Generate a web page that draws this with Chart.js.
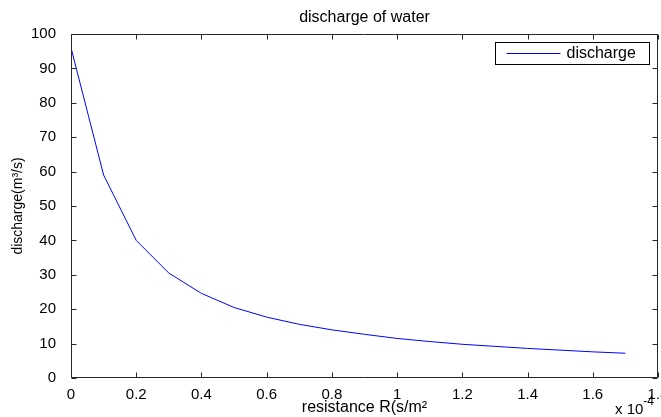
<!DOCTYPE html>
<html>
<head>
<meta charset="utf-8">
<script src="https://cdn.jsdelivr.net/npm/chart.js@4.4.1/dist/chart.umd.min.js"></script>
<style>
  html, body { margin: 0; padding: 0; background: #fff; overflow: hidden; }
  canvas { display: block; }
</style>
</head>
<body>
<canvas id="chart" width="661" height="417"></canvas>
<script>
// resistance R in units of 1e-4 s/m^2, discharge in m^3/s
const resistance = [0, 0.1, 0.2, 0.3, 0.4, 0.5, 0.6, 0.7, 0.8, 0.9, 1.0, 1.1, 1.2, 1.3, 1.4, 1.5, 1.6, 1.7];
const discharge = [96, 59, 40, 30.5, 24.6, 20.5, 17.7, 15.6, 14.0, 12.7, 11.5, 10.6, 9.8, 9.2, 8.6, 8.1, 7.6, 7.2];
const xTickValues = [0, 0.2, 0.4, 0.6, 0.8, 1, 1.2, 1.4, 1.6, 1.8];
const yTickValues = [0, 10, 20, 30, 40, 50, 60, 70, 80, 90, 100];

const chartTitle = 'discharge of water';
const xTitle = 'resistance R(s/m²';
const yTitle = 'discharge(m³/s)';
const xExponent = ['x 10', '-4'];

const FONT = "'Liberation Sans', Arial, Helvetica, sans-serif";
const AXIS = '#262626';

// MATLAB-like frame: box, inward ticks on all sides, title, exponent and legend
const matlabFrame = {
  id: 'matlabFrame',
  afterDraw(chart) {
    const { ctx, chartArea: { left, top, right, bottom }, scales: { x, y } } = chart;
    const L = Math.round(left) + 0.5, R = Math.round(right) - 0.5;
    const T = Math.round(top) + 0.5, B = Math.round(bottom) - 0.5;
    const tick = 5;
    ctx.save();
    ctx.strokeStyle = AXIS;
    ctx.lineWidth = 1;
    ctx.beginPath();
    ctx.moveTo(L, T); ctx.lineTo(R, T); ctx.lineTo(R, B); ctx.lineTo(L, B); ctx.closePath();
    x.ticks.forEach(t => {
      const px = Math.round(x.getPixelForValue(t.value)) + 0.5;
      ctx.moveTo(px, B); ctx.lineTo(px, B - tick);
      ctx.moveTo(px, T); ctx.lineTo(px, T + tick);
    });
    y.ticks.forEach(t => {
      const py = Math.round(y.getPixelForValue(t.value)) + 0.5;
      ctx.moveTo(L, py); ctx.lineTo(L + tick, py);
      ctx.moveTo(R, py); ctx.lineTo(R - tick, py);
    });
    ctx.stroke();

    // title, centred over the axes
    ctx.fillStyle = '#000';
    ctx.font = '16px ' + FONT;
    ctx.textAlign = 'center';
    ctx.textBaseline = 'middle';
    ctx.fillText(chartTitle, (left + right) / 2, 18);

    // x exponent in the lower right corner
    ctx.textBaseline = 'alphabetic';
    ctx.textAlign = 'right';
    ctx.font = '12px ' + FONT;
    const supW = ctx.measureText(xExponent[1]).width;
    ctx.fillText(xExponent[1], right - 4, 405);
    ctx.font = '15px ' + FONT;
    ctx.fillText(xExponent[0], right - 4 - supW, 414);

    // legend box
    const ds = chart.data.datasets[0];
    const bw = 154, bh = 22;
    const bx = Math.round(right) - 9 - bw + 0.5, by = Math.round(top) + 8 + 0.5;
    ctx.fillStyle = '#fff';
    ctx.fillRect(bx, by, bw, bh);
    ctx.strokeStyle = '#000';
    ctx.strokeRect(bx, by, bw, bh);
    ctx.strokeStyle = ds.borderColor;
    ctx.beginPath();
    ctx.moveTo(bx + 11, by + 11); ctx.lineTo(bx + 65, by + 11);
    ctx.stroke();
    ctx.fillStyle = '#000';
    ctx.font = '16px ' + FONT;
    ctx.textAlign = 'left';
    ctx.textBaseline = 'middle';
    ctx.fillText(ds.label, bx + 71, by + 11.5);
    ctx.restore();
  }
};

new Chart(document.getElementById('chart'), {
  type: 'line',
  data: {
    datasets: [{
      label: 'discharge',
      data: resistance.map((r, i) => ({ x: r, y: discharge[i] })),
      borderColor: '#0000ff',
      backgroundColor: '#0000ff',
      borderWidth: 1,
      pointRadius: 0,
      tension: 0,
      fill: false,
    }],
  },
  options: {
    responsive: false,
    animation: false,
    devicePixelRatio: 1,
    layout: { padding: { top: 34, right: 3, left: 0, bottom: 0 } },
    plugins: {
      legend: { display: false },
      title: { display: false },
      tooltip: { enabled: false },
    },
    scales: {
      x: {
        type: 'linear',
        min: 0,
        max: 1.8,
        afterBuildTicks: s => { s.ticks = xTickValues.map(v => ({ value: v })); },
        afterFit: s => { s.height = 39; s.paddingLeft = 0; s.paddingRight = 0; },
        grid: { display: false },
        border: { display: false },
        ticks: {
          color: '#000', padding: 0, maxRotation: 0, autoSkip: false,
          font: { family: FONT, size: 15 },
          callback: v => String(v),
        },
        title: {
          display: true, text: xTitle, color: '#000',
          font: { family: FONT, size: 16 },
          padding: { top: 0, bottom: 0 },
        },
      },
      y: {
        type: 'linear',
        min: 0,
        max: 100,
        afterBuildTicks: s => { s.ticks = yTickValues.map(v => ({ value: v })); },
        afterFit: s => { s.width = 71; },
        grid: { display: false },
        border: { display: false },
        ticks: {
          color: '#000', padding: 7,
          font: { family: FONT, size: 15 },
          callback: v => String(v),
        },
        title: {
          display: true, text: yTitle, color: '#000',
          font: { family: FONT, size: 14 },
          padding: { top: 10, bottom: 0 },
        },
      },
    },
  },
  plugins: [matlabFrame],
});
</script>
</body>
</html>
